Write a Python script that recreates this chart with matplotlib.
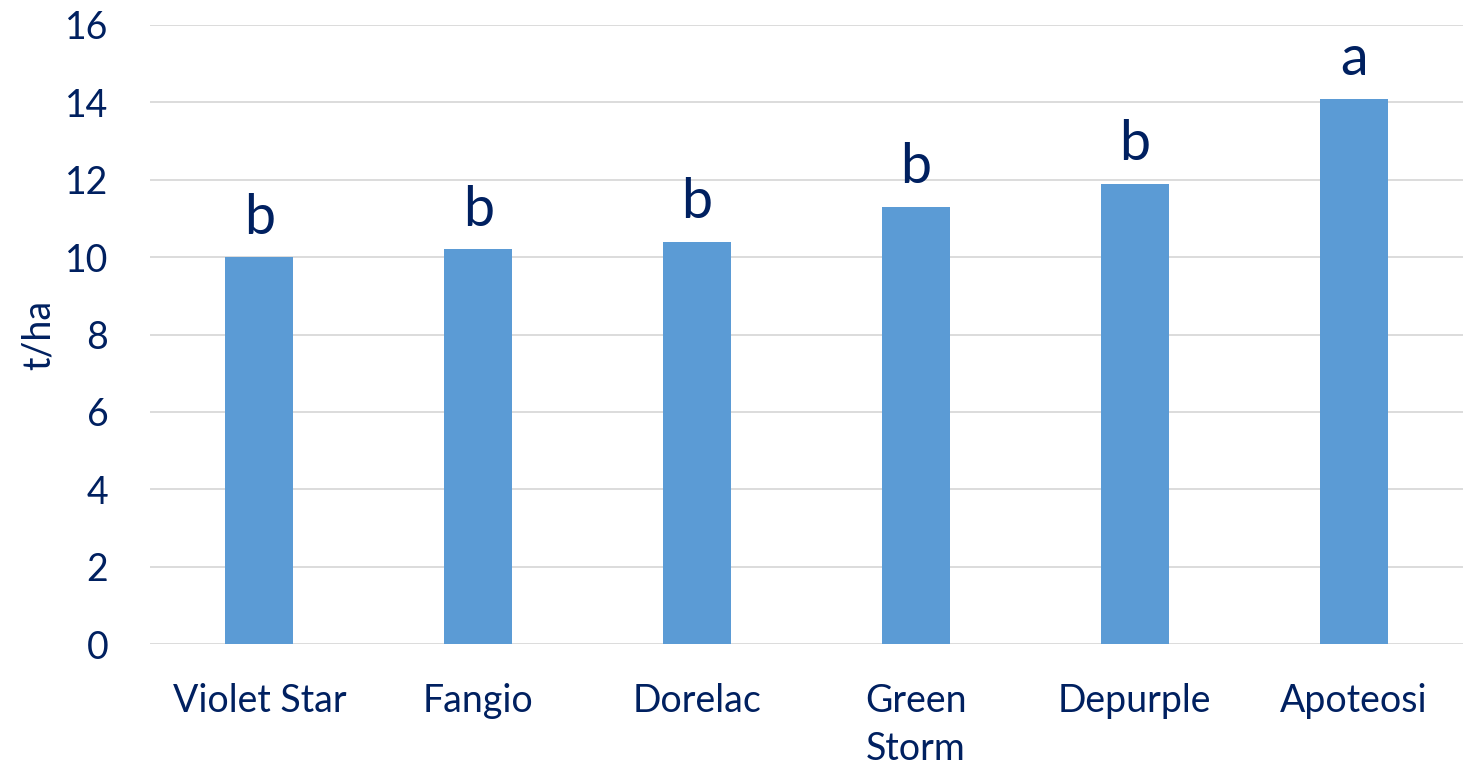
import matplotlib.pyplot as plt

# yield per variety, with significance letters
varieties = ['Violet Star', 'Fangio', 'Dorelac', 'Green\nStorm', 'Depurple', 'Apoteosi']
yields = [10.0, 10.2, 10.4, 11.3, 11.9, 14.1]
letters = ['b', 'b', 'b', 'b', 'b', 'a']
y_ticks = [0, 2, 4, 6, 8, 10, 12, 14, 16]

navy = '#002060'
plt.rcParams['font.family'] = ['Lato', 'DejaVu Sans']

fig = plt.figure(figsize=(14.63, 7.69), dpi=100)
ax = fig.add_axes([0.1025, 0.1625, 0.8975, 0.805])

x = range(len(varieties))
bars = ax.bar(x, yields, width=0.31, color='#5B9BD5', zorder=3)
for b, lab in zip(bars, letters):
    ax.text(b.get_x() + b.get_width() / 2, b.get_height() + 0.35, lab,
            ha='center', va='bottom', fontsize=40, color=navy)

ax.set_xlim(-0.5, len(varieties) - 0.5)
ax.set_ylim(0, 16)
ax.set_yticks(y_ticks)
ax.set_xticks(list(x))
ax.set_xticklabels(varieties, linespacing=1.4)
ax.tick_params(axis='both', length=0, labelsize=27, labelcolor=navy)
ax.tick_params(axis='x', pad=28)
ax.tick_params(axis='y', pad=30)
ax.grid(axis='y', color='#D9D9D9', linewidth=1.3, zorder=0)
for s in ax.spines.values():
    s.set_visible(False)
ax.set_ylabel('t/ha', fontsize=27, color=navy, labelpad=6)

plt.savefig('out.png', dpi=100)
